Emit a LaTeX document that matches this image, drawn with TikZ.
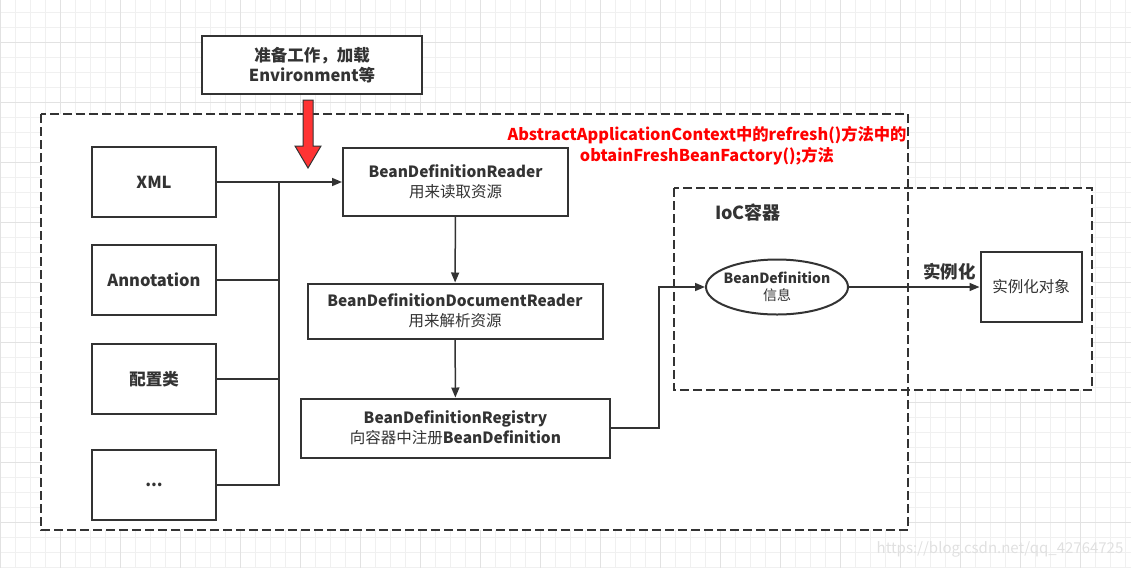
\documentclass[tikz,border=0pt]{standalone}
\usepackage{fontspec}
\setmainfont{Noto Sans CJK SC}
\usetikzlibrary{arrows.meta,shapes.geometric}

\definecolor{ink}{HTML}{333333}
\definecolor{gridminor}{HTML}{F0F0F0}
\definecolor{gridmajor}{HTML}{E2E2E2}
\definecolor{alarm}{HTML}{FF3333}

\begin{document}
\begin{tikzpicture}[x=1pt, y=-1pt,
    box/.style={draw=ink, line width=2pt, fill=white, text=ink, align=center, inner sep=0pt},
    txt/.style={font=\fontsize{15.5pt}{20pt}\selectfont},
    btxt/.style={font=\fontsize{16.5pt}{20pt}\selectfont\bfseries},
    link/.style={draw=ink, line width=1.5pt},
    arr/.style={link, -{Triangle[length=10pt, width=8pt]}},
    zone/.style={draw=ink, line width=2pt, dash pattern=on 9pt off 4pt}]
    \useasboundingbox (0,0) rectangle (1131,568);

    % grid
    \foreach \k in {0,...,75} \draw[gridminor, line width=0.8pt] (\k*15+0.7,0) -- (\k*15+0.7,568);
    \foreach \k in {0,...,37} \draw[gridminor, line width=0.8pt] (0,\k*15+12.3) -- (1131,\k*15+12.3);
    \foreach \k in {0,...,18} \draw[gridmajor, line width=0.8pt] (\k*60+0.7,0) -- (\k*60+0.7,568);
    \foreach \k in {0,...,8} \draw[gridmajor, line width=0.8pt] (0,\k*60+42.3) -- (1131,\k*60+42.3);

    \node[text=black!12, font=\fontsize{15pt}{18pt}\selectfont] (mark) at (1000,549) {https://blog.csdn.net/qq\_42764725};

    % dashed areas
    \fill[white] (41,114) rectangle (908,530);
    \fill[white] (674,188) rectangle (1092,390);
    \draw[zone] (41,114) rectangle (908,530);
    \draw[zone] (674,188) rectangle (1092,390);

    \node[box, btxt, minimum width=220pt, minimum height=58pt] (prep) at (312,65) {准备工作，加载\\Environment等};

    \node[box, btxt, minimum width=124pt, minimum height=70pt] (xml) at (154,182) {XML};
    \node[box, btxt, minimum width=124pt, minimum height=70pt] (annot) at ([yshift=-62pt]xml.south) {Annotation};
    \node[box, btxt, minimum width=124pt, minimum height=70pt] (config) at ([yshift=-63pt]annot.south) {配置类};
    \node[box, btxt, minimum width=124pt, minimum height=70pt] (dots) at ([yshift=-70pt]config.south) {...};

    \node[box, txt, minimum width=225pt, minimum height=68pt] (reader) at (455.5,182) {{\bfseries BeanDefinitionReader}\\用来读取资源};
    \node[box, txt, minimum width=295pt, minimum height=55pt] (docreader) at (455,311) {{\bfseries BeanDefinitionDocumentReader}\\用来解析资源};
    \node[box, txt, minimum width=309pt, minimum height=59pt] (registry) at (455.5,428) {{\bfseries BeanDefinitionRegistry}\\向容器中注册{\bfseries BeanDefinition}};

    \node[box, font=\fontsize{14pt}{17pt}\selectfont, ellipse, inner xsep=-6pt, minimum width=142pt, minimum height=55pt] (beandef) at (777,287) {{\bfseries BeanDefinition}\\信息};
    \node[box, txt, minimum width=101pt, minimum height=70pt] (instance) at (1031,287) {实例化对象};

    \node[text=ink, font=\fontsize{18pt}{20pt}\selectfont\bfseries] (ioc) at (748,213) {IoC容器};
    \node[text=red, align=center, font=\fontsize{16.3pt}{21pt}\selectfont\bfseries] (refresh) at (707,146) {AbstractApplicationContext中的refresh()方法中的\\obtainFreshBeanFactory();方法};

    % red block arrow
    \draw[ink, fill=alarm, line width=1pt] (303,100) -- (313,100) -- (313,146) -- (321,146) -- (308,168) -- (295,146) -- (303,146) -- cycle;

    % connectors
    \coordinate (bus) at (279,182);
    \draw[arr] (xml) -- (reader);
    \draw[link] (annot.east) -- (annot.east -| bus);
    \draw[link] (config.east) -- (config.east -| bus);
    \draw[link] (dots.east) -| (bus);
    \draw[arr] (reader) -- (docreader);
    \draw[arr] (docreader) -- (registry);
    \draw[arr] (registry.east) -- ++(48,0) |- (beandef.west);
    \draw[arr] (beandef) -- (instance) node[pos=0.77, above=3pt, text=ink, font=\fontsize{17.5pt}{20pt}\selectfont\bfseries] {实例化};
\end{tikzpicture}
\end{document}
